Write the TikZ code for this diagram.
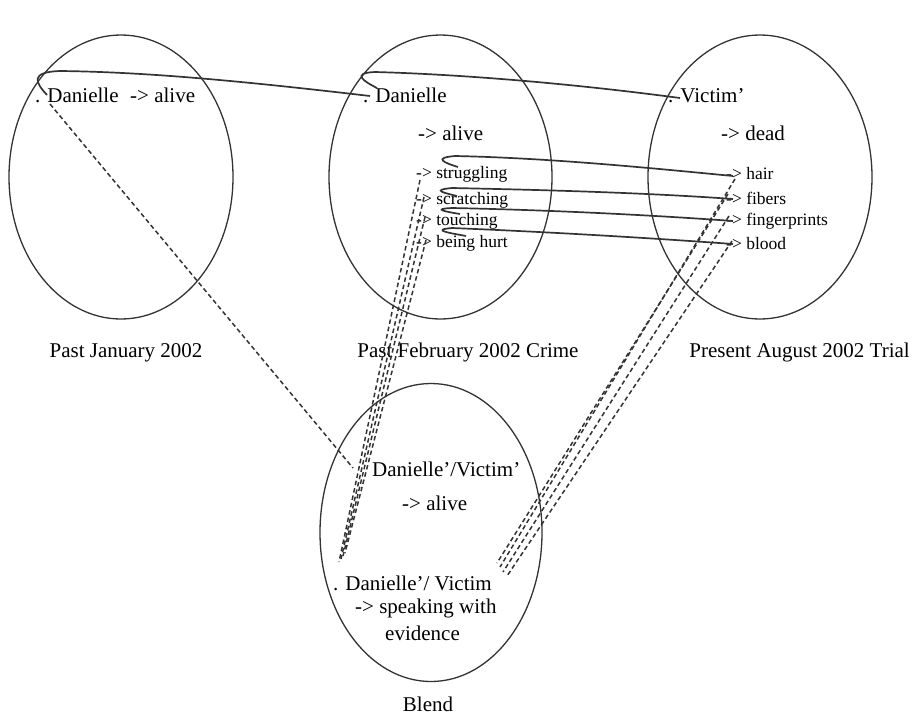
\documentclass[tikz,border=0pt]{standalone}
\usepackage{fontspec}
\setmainfont{Liberation Serif}
\usetikzlibrary{shapes.geometric}
\begin{document}
\begin{tikzpicture}[x=1pt,y=-1pt,
  space/.style={draw=black!80,line width=1.3pt,ellipse,inner sep=0pt},
  big/.style={inner sep=0pt,anchor=base west,font=\fontsize{21}{25}\selectfont},
  small/.style={inner sep=0pt,anchor=base west,font=\fontsize{17.5}{21}\selectfont},
  link/.style={draw=black!80,line width=1.7pt},
  dlink/.style={draw=black!80,line width=1.5pt,dash pattern=on 4.5pt off 3pt}]
\useasboundingbox (0,0) rectangle (916,716);
% spaces
\node[space,minimum width=224pt,minimum height=284pt] (s1) at (121,177) {};
\node[space,minimum width=223pt,minimum height=284pt] (s2) at (440.5,177) {};
\node[space,minimum width=224pt,minimum height=284pt] (s3) at (760,177) {};
\node[space,minimum width=222pt,minimum height=298pt] (s4) at (431,532.5) {};
% space labels
\node[big,anchor=base] (l1) at (126,357) {Past January 2002};
\node[big,anchor=base] (l2) at (468,357) {Past February 2002 Crime};
\node[big,anchor=base east] (l3) at (910,357) {Present August 2002 Trial};
\node[big,anchor=base] (l4) at (428,711) {Blend};
% input 1
\node[big] (d1) at (35,102) {. Danielle};
\node[big] (a1) at (130,102) {-> alive};
% input 2
\node[big] (d2) at (363,102) {. Danielle};
\node[big] (a2) at (418,140) {-> alive};
\node[small] (m1) at (416,178) {-> struggling};
\node[small] (m2) at (416,204) {-> scratching};
\node[small] (m3) at (416,225) {-> touching};
\node[small] (m4) at (416,247) {-> being hurt};
% input 3
\node[big] (v3) at (668,102) {. Victim’};
\node[big] (a3) at (721,140) {-> dead};
\node[small] (r1) at (726,179) {-> hair};
\node[small] (r2) at (726,204) {-> fibers};
\node[small] (r3) at (726,225) {-> fingerprints};
\node[small] (r4) at (726,249) {-> blood};
% blend
\node[big] (b1) at (372,476) {Danielle’/Victim’};
\node[big] (b2) at (402,510) {-> alive};
\node[big] (b3) at (333,590) {. Danielle’/ Victim};
\node[big] (b4) at (355,613) {-> speaking with};
\node[big] (b5) at (385,640) {evidence};
% connector end points
\coordinate (p1) at (47,95);
\coordinate (q1) at (370,96);
\coordinate (p2) at (377,88);
\coordinate (q2) at (680,98);
\coordinate (pm1) at (458,167);
\coordinate (pm2) at (457,196);
\coordinate (pm3) at (460,214);
\coordinate (pm4) at (466,236);
\coordinate (qr1) at (733,176);
\coordinate (qr2) at (733,199);
\coordinate (qr3) at (733,221);
\coordinate (qr4) at (733,244);
% solid cross-space links
\draw[link] (p1) .. controls (35,82) and (30,72) .. (60,71) .. controls (150,72) and (250,82) .. (q1);
\draw[link] (p2) .. controls (365,82) and (350,73) .. (375,72) .. controls (450,74) and (560,82) .. (q2);
\draw[link] (pm1) .. controls (445,163) and (432,158) .. (455,156) .. controls (550,158) and (650,168) .. (qr1);
\draw[link] (pm2) .. controls (445,193) and (430,190) .. (452,188) .. controls (550,190) and (650,193) .. (qr2);
\draw[link] (pm3) .. controls (448,212) and (430,209) .. (452,208) .. controls (550,210) and (650,215) .. (qr3);
\draw[link] (pm4) .. controls (450,233) and (430,230) .. (452,228) .. controls (550,232) and (650,238) .. (qr4);
% projection to blend
\coordinate (e0) at (50,104);
\coordinate (f0) at (353,468);
\draw[dlink] (e0) -- (f0);
\coordinate (e1) at (420,180);
\coordinate (e2) at (424,197);
\coordinate (e3) at (425,217);
\coordinate (e4) at (426,240);
\coordinate (f1) at (339,562);
\coordinate (f2) at (341,559);
\coordinate (f3) at (343,556);
\coordinate (f4) at (345,553);
\draw[dlink] (e1) -- (f1);
\draw[dlink] (e2) -- (f2);
\draw[dlink] (e3) -- (f3);
\draw[dlink] (e4) -- (f4);
\coordinate (g1) at (735,179);
\coordinate (g2) at (728,194);
\coordinate (g3) at (729,216);
\coordinate (g4) at (732,241);
\coordinate (h1) at (497,563);
\coordinate (h2) at (500,567);
\coordinate (h3) at (503,572);
\coordinate (h4) at (507,576);
\draw[dlink] (g1) -- (h2);
\draw[dlink] (g2) -- (h1);
\draw[dlink] (g3) -- (h3);
\draw[dlink] (g4) -- (h4);
\end{tikzpicture}
\end{document}
